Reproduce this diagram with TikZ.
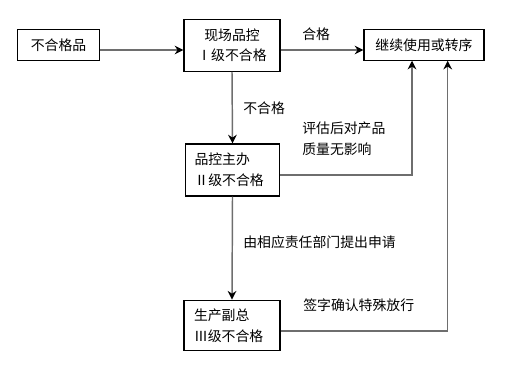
\documentclass[tikz,border=0pt]{standalone}
\usepackage{fontspec}
\setmainfont{Noto Sans CJK SC}
\usepackage{tikz}
\usetikzlibrary{positioning, arrows.meta, calc}
\definecolor{linegray}{HTML}{6E6E6E}

\tikzset{
  box/.style={draw=black, line width=0.9pt, fill=white, inner sep=2pt,
              font=\fontsize{10.4}{15.5}\selectfont},
  flow/.style={draw=linegray, line width=1.1pt, -{Stealth[length=6.5pt, width=6.5pt, black]}},
  note/.style={font=\fontsize{10.4}{15.5}\selectfont, inner sep=0pt}
}

\begin{document}
\begin{tikzpicture}[x=0.75pt, y=-0.75pt]
    \useasboundingbox (0,0) rectangle (506,364);

    % boxes
    \node[box, minimum width=62pt, minimum height=23pt] (bad) at (58.5,44.8) {不合格品};
    \node[box, minimum width=72pt, minimum height=39pt, align=center] (field) at (232,45.3)
      {现场品控\\Ⅰ级不合格};
    \node[box, minimum width=90pt, minimum height=23pt] (cont) at (424,44.8) {继续使用或转序};
    \node[box, minimum width=71pt, minimum height=39pt, text width=57pt, align=left] (qc) at (232.5,170)
      {品控主办\\Ⅱ级不合格};
    \node[box, minimum width=72pt, minimum height=38pt, text width=57pt, align=left] (vp) at (232,325.5)
      {生产副总\\Ⅲ级不合格};

    % connectors
    \draw[flow] (bad.east |- 0,50) -- (field.west |- 0,50);
    \draw[flow] (field.east |- 0,50) -- (cont.west |- 0,50);
    \draw[flow] (field.south) -- (qc.north);
    \draw[flow] (qc.south) -- (vp.north);
    \draw[flow] (qc.east |- 0,175) -| (cont.south -| 412,0);
    \draw[flow] (vp.east |- 0,331) -| (cont.south -| 447.7,0);

    % labels
    \node[note, anchor=west] (pass) at (302,34) {合格};
    \node[note, anchor=west] (fail) at (243,108) {不合格};
    \node[note, anchor=west, align=left] (eval) at (302,138.5) {评估后对产品\\质量无影响};
    \node[note, anchor=west] (apply) at (243,242) {由相应责任部门提出申请};
    \node[note, anchor=west] (sign) at (303,305) {签字确认特殊放行};
\end{tikzpicture}
\end{document}
